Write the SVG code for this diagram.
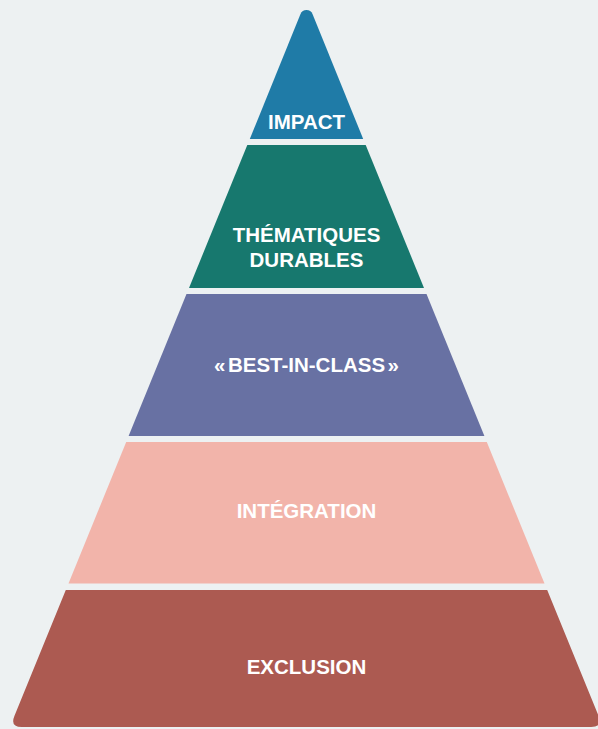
<svg xmlns="http://www.w3.org/2000/svg" width="598" height="729" viewBox="0 0 598 729">
<style>
.lbl{font-family:"Liberation Sans",Arial,sans-serif;font-weight:bold;font-size:20.5px;fill:#ffffff;text-anchor:middle}
</style>
<rect x="0" y="0" width="598" height="729" fill="#edf1f2"/>
<g id="impact">
<path d="M300.5,14 A6.5,6.5 0 0 1 312.5,14 L363.2,139 L249.8,139 Z" fill="#1f7ba7"/>
<text class="lbl" x="306.5" y="129">IMPACT</text>
</g>
<g id="thematiques">
<path d="M247.3,145 L365.7,145 L424,288 L189,288 Z" fill="#17786e"/>
<text class="lbl" x="306.5" y="242">THÉMATIQUES</text>
<text class="lbl" x="306.5" y="267">DURABLES</text>
</g>
<g id="bestinclass">
<path d="M186.5,294 L426.5,294 L484.4,436 L128.6,436 Z" fill="#6871a3"/>
<text class="lbl" x="306.5" y="371.5">«<tspan dx="2.5">BEST-IN-CLASS</tspan><tspan dx="2.5">»</tspan></text>
</g>
<g id="integration">
<path d="M126.2,442 L486.8,442 L544.5,583.5 L68.5,583.5 Z" fill="#f2b4aa"/>
<text class="lbl" x="306.5" y="517.5">INTÉGRATION</text>
</g>
<g id="exclusion">
<path d="M65.8,590 L547.2,590 L598.6,716 Q603.1,727 591.2,727 L21.8,727 Q9.9,727 14.4,716 Z" fill="#ac5a51"/>
<text class="lbl" x="306.5" y="673.5">EXCLUSION</text>
</g>
<g id="connectors"></g>
</svg>
